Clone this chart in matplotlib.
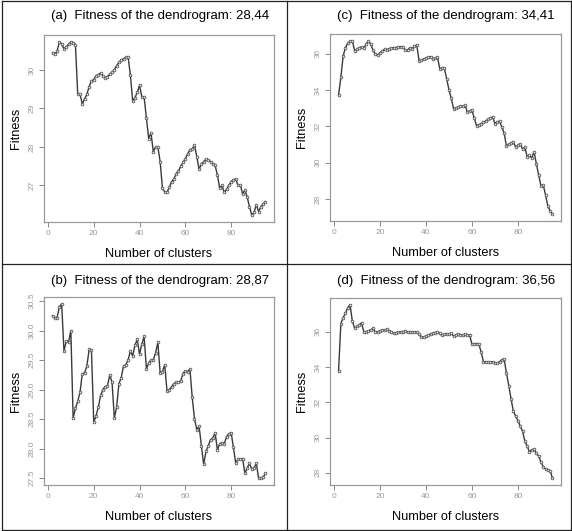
import numpy as np
import matplotlib
matplotlib.use("Agg")
from matplotlib import pyplot as plt
from matplotlib.lines import Line2D

# number of clusters, 2..95
clusters = list(range(2, 96))

fit_a = [30.45, 30.41, 30.49, 30.73, 30.68, 30.55, 30.60, 30.67, 30.73, 30.71,
         30.66, 29.38, 29.37, 29.12, 29.25, 29.37, 29.57, 29.72, 29.75, 29.85,
         29.88, 29.92, 29.85, 29.80, 29.83, 29.89, 29.94, 30.01, 30.11, 30.20,
         30.26, 30.29, 30.33, 30.34, 29.87, 29.20, 29.28, 29.42, 29.60, 29.30,
         29.30, 28.75, 28.22, 28.37, 27.88, 28.00, 28.00, 27.62, 26.93, 26.83,
         26.83, 26.95, 27.10, 27.17, 27.30, 27.38, 27.50, 27.60, 27.70, 27.82,
         27.93, 27.95, 28.05, 27.75, 27.42, 27.55, 27.62, 27.68, 27.67, 27.62,
         27.57, 27.52, 27.27, 26.93, 27.00, 26.82, 26.90, 27.00, 27.10, 27.15,
         27.17, 27.00, 27.02, 26.78, 26.88, 26.70, 26.45, 26.23, 26.30, 26.50,
         26.32, 26.45, 26.52, 26.58]

fit_b = [30.25, 30.21, 30.22, 30.40, 30.45, 29.65, 29.82, 29.80, 30.00, 28.52,
         28.68, 28.80, 28.95, 29.27, 29.28, 29.40, 29.68, 29.67, 28.45, 28.55,
         28.70, 28.90, 29.00, 29.05, 29.06, 29.25, 29.12, 28.52, 28.70, 29.10,
         29.20, 29.40, 29.42, 29.50, 29.65, 29.57, 29.75, 29.85, 29.60, 29.77,
         29.90, 29.35, 29.45, 29.50, 29.50, 29.62, 29.80, 29.28, 29.30, 29.42,
         28.97, 29.00, 29.05, 29.10, 29.12, 29.12, 29.15, 29.27, 29.32, 29.30,
         29.35, 28.87, 28.50, 28.32, 28.38, 28.05, 27.73, 27.95, 28.05, 28.15,
         28.18, 28.27, 27.98, 28.08, 28.10, 28.08, 28.20, 28.25, 28.27, 28.02,
         27.75, 27.82, 27.82, 27.83, 27.58, 27.67, 27.75, 27.65, 27.67, 27.75,
         27.50, 27.50, 27.52, 27.58]

fit_c = [33.72, 34.70, 35.87, 36.33, 36.58, 36.67, 36.70, 36.15, 36.24, 36.33,
         36.37, 36.30, 36.52, 36.69, 36.52, 36.19, 35.96, 35.93, 36.05, 36.15,
         36.24, 36.20, 36.28, 36.30, 36.33, 36.33, 36.37, 36.39, 36.37, 36.20,
         36.20, 36.33, 36.28, 36.41, 36.47, 35.62, 35.65, 35.70, 35.75, 35.80,
         35.83, 35.72, 35.75, 35.80, 35.18, 35.20, 35.20, 34.62, 34.02, 33.54,
         32.98, 33.00, 33.05, 33.10, 33.12, 33.15, 32.78, 32.85, 32.90, 32.45,
         32.04, 32.08, 32.15, 32.22, 32.30, 32.38, 32.45, 32.52, 32.15, 32.25,
         32.28, 31.95, 31.62, 30.92, 31.00, 31.08, 31.15, 30.85, 30.95, 31.03,
         30.75, 30.85, 30.32, 30.40, 30.25, 30.60, 29.95, 29.32, 28.72, 28.78,
         28.22, 27.62, 27.35, 27.17]

fit_d = [33.79, 36.46, 36.80, 37.05, 37.37, 37.52, 36.60, 36.20, 36.30, 36.40,
         36.50, 35.98, 36.00, 36.05, 36.10, 36.20, 35.97, 36.00, 36.05, 36.10,
         36.08, 36.15, 36.05, 36.00, 35.90, 35.95, 35.98, 36.00, 36.00, 36.05,
         36.00, 35.98, 36.00, 36.00, 35.97, 35.85, 35.72, 35.68, 35.75, 35.82,
         35.87, 35.92, 35.95, 36.00, 35.90, 35.80, 35.85, 35.87, 35.87, 35.90,
         35.75, 35.83, 35.87, 35.82, 35.80, 35.85, 35.82, 35.80, 35.30, 35.32,
         35.33, 35.30, 34.85, 34.30, 34.28, 34.28, 34.27, 34.30, 34.25, 34.22,
         34.30, 34.42, 34.45, 33.65, 32.95, 32.20, 31.50, 31.20, 30.95, 30.65,
         30.35, 29.80, 29.50, 29.20, 29.30, 29.35, 29.10, 28.95, 28.60, 28.35,
         28.20, 28.15, 28.10, 27.70]

titles = ["(a)  Fitness of the dendrogram: 28,44",
          "(c)  Fitness of the dendrogram: 34,41",
          "(b)  Fitness of the dendrogram: 28,87",
          "(d)  Fitness of the dendrogram: 36,56"]
yticks = [[27, 28, 29, 30],
          [28, 30, 32, 34, 36],
          [27.5, 28.0, 28.5, 29.0, 29.5, 30.0, 30.5],
          [28, 30, 32, 34, 36]]
ytick_fmt = ["{:.0f}", "{:.0f}", "{:.1f}", "{:.0f}"]
series = [fit_a, fit_c, fit_b, fit_d]

plt.rcParams['font.family'] = ['Liberation Sans', 'DejaVu Sans']

W, H = 572, 531
fig = plt.figure(figsize=(W / 100, H / 100), dpi=100)

# axes boxes in pixels: left, top, right, bottom
boxes = [(44, 35, 274, 222), (330, 34, 561, 221),
         (44, 297, 274, 485), (330, 298, 561, 485)]
title_y = [16, 16, 281, 281]
cell_x = [160, 446, 160, 446]

grey = "#888888"
for k in range(4):
    l, t, r, b = boxes[k]
    ax = fig.add_axes([l / W, 1 - b / H, (r - l) / W, (b - t) / H])
    ax.plot(clusters, series[k], color="#3a3a3a", lw=1.0,
            marker="o", ms=2.0, mfc="#dddddd", mec="#444444", mew=0.5)
    ax.margins(x=0.04, y=0.04)
    ax.set_xticks([0, 20, 40, 60, 80])
    ax.set_yticks(yticks[k])
    ax.set_yticklabels([ytick_fmt[k].format(v) for v in yticks[k]],
                       rotation=90, va="center")
    ax.tick_params(colors=grey, labelsize=6, length=3.5, width=0.7,
                   labelcolor="#999999", pad=2.5)
    for s in ax.spines.values():
        s.set_color("#999999")
        s.set_linewidth(0.9)
    ax.set_xlabel("Number of clusters", fontsize=9.2, labelpad=8)
    ax.set_ylabel("Fitness", fontsize=9.2, labelpad=5)
    fig.text(cell_x[k] / W, 1 - title_y[k] / H, titles[k], fontsize=9.5,
             ha="center", va="center")

# table borders
for x in [1.5, 286.5, 570.5]:
    fig.add_artist(Line2D([x / W, x / W], [1 - 0.5 / H, 1 - 529.5 / H],
                          color="#222222", lw=0.9))
for y in [0.5, 263.5, 529.5]:
    fig.add_artist(Line2D([1.5 / W, 570.5 / W], [1 - y / H, 1 - y / H],
                          color="#222222", lw=0.9))

fig.savefig("out.png", dpi=100, facecolor="white")
